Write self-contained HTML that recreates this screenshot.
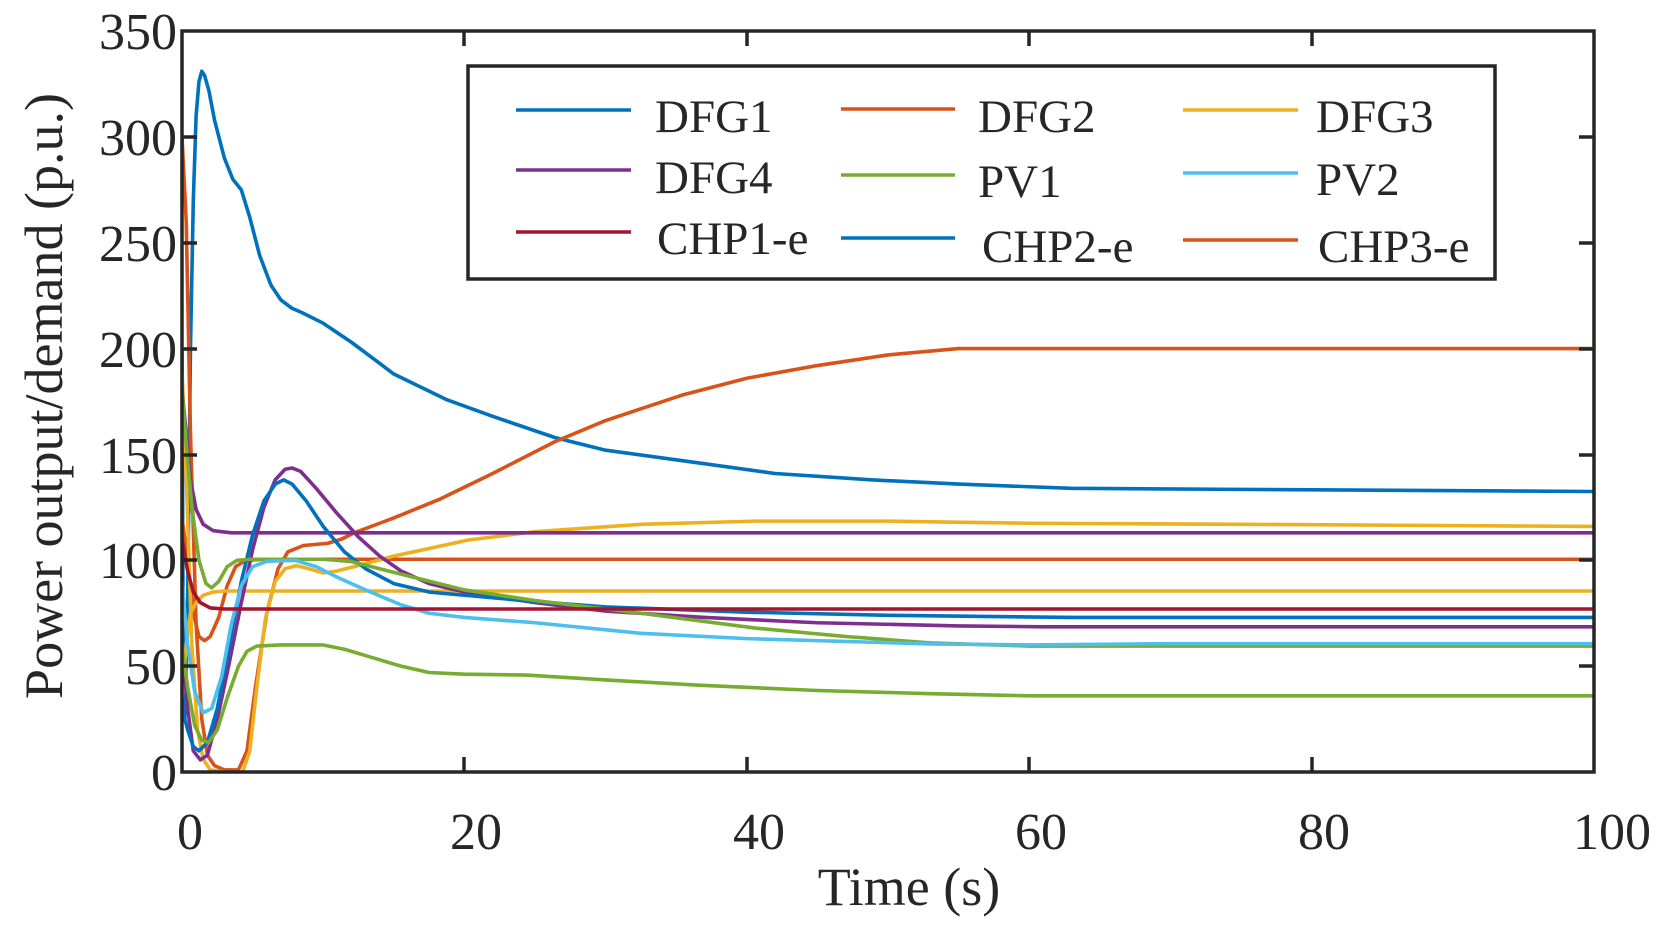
<!DOCTYPE html>
<html><head><meta charset="utf-8"><style>
html,body{margin:0;padding:0;background:#fff;}
svg{display:block;}
text{font-family:"Liberation Serif",serif;fill:#262626;}
</style></head><body>
<svg width="1667" height="928" viewBox="0 0 1667 928" xmlns="http://www.w3.org/2000/svg">
<defs><clipPath id="c"><rect x="182" y="31" width="1412" height="741"/></clipPath></defs>
<g clip-path="url(#c)">
<g transform="translate(182,772) scale(14.12,-2.117)" fill="none" stroke-width="3.6" stroke-linejoin="round">
<polyline vector-effect="non-scaling-stroke" stroke="#0072BD" points="0,200 0.1,30 0.2,25 0.4,80 0.6,200 0.8,270 1,310 1.2,326 1.4,331 1.6,329 1.9,322 2.3,308 3,290 3.6,280 4.2,275 4.8,262 5.5,244 6.3,230 7,223 7.8,219 8.5,217 10,212 12,203 15,188 18.7,176 22,168 26.4,158 30,152 36.6,146 42,141 48.8,138 55,136 63,134 75,133.5 100,132.5"/>
<polyline vector-effect="non-scaling-stroke" stroke="#D95319" points="0,300 0.3,260 0.6,160 1,70 1.4,25 1.8,8 2.3,3 3,1 4,1 4.6,10 5.2,40 6,75 6.8,96 7.5,104 8.6,107 10.3,108 11.3,110 12.2,113 15,120 18.3,129 22,141 26.4,156 30,166 35.4,178 40,186 45,192 50,197 55,200 100,200"/>
<polyline vector-effect="non-scaling-stroke" stroke="#D95319" points="0,120 0.4,100 0.8,75 1.2,64 1.6,62 2,64 2.6,73 3.2,88 3.8,97 4.5,100 6,100.5 100,100.5"/>
<polyline vector-effect="non-scaling-stroke" stroke="#EDB120" points="0,190 0.3,140 0.7,60 1.1,20 1.5,6 2,1 3,0 4.3,0 4.8,10 5.3,40 5.9,72 6.6,90 7.3,96 8.1,97.5 9,96 10,94 11,95 12.2,97 15,102 20.3,109.6 25,113.5 32.5,117 40.6,118.5 50,118.5 60,117.5 75,117 100,116"/>
<polyline vector-effect="non-scaling-stroke" stroke="#EDB120" points="0,35 0.3,60 0.6,75 1,80 1.5,83.5 2.2,85 3,85.5 100,85.5"/>
<polyline vector-effect="non-scaling-stroke" stroke="#7E2F8E" points="0,180 0.3,160 0.6,138 1,124 1.5,117 2.2,114 3.5,113 100,113"/>
<polyline vector-effect="non-scaling-stroke" stroke="#7E2F8E" points="0,60 0.4,30 0.8,10 1.3,5.7 1.8,8 2.5,25 3.3,50 4.2,80 5,105 5.8,125 6.6,138 7.3,143 7.8,143.6 8.4,142 9.5,134 11,122 12.5,111 14,102 15.5,95 17.5,89 20,85 25,80 30,76 37,73 45,70.5 55,69 61,68.6 100,68.6"/>
<polyline vector-effect="non-scaling-stroke" stroke="#0072BD" points="0,30 0.4,20 0.8,12 1.2,10 1.8,14 2.5,30 3.3,58 4.2,90 5,112 5.8,128 6.6,136 7.2,138 7.8,136 8.8,128 10,116 11.5,104 13,96 15,89 17.5,85 20,83.5 25,80.5 30,78 40,75.5 50,74 63,73 100,73"/>
<polyline vector-effect="non-scaling-stroke" stroke="#77AC30" points="0,180 0.3,155 0.7,125 1.2,100 1.7,89 2.1,87 2.6,90 3.2,97 3.9,100 5,100.5 10,100.5 12,99.4 14,96 17,91 20,86 25,81 32.5,75 40.6,68 47,64 53,61 60,59.5 100,59.5"/>
<polyline vector-effect="non-scaling-stroke" stroke="#77AC30" points="0,60 0.4,40 0.9,22 1.4,15 1.9,14 2.5,20 3.2,35 4,50 4.6,57 5.3,59.5 7,60 10,60 11.5,58 13.5,54 15.5,50 17.5,47 20,46.2 24.4,45.8 30,43.5 36.6,41 45,38.5 53,37 60,36 100,36"/>
<polyline vector-effect="non-scaling-stroke" stroke="#4DBEEE" points="0,90 0.4,60 0.9,38 1.5,28 2.1,30 2.8,45 3.5,70 4.2,88 5,97 6,99.5 8,100 9.5,97 11,92 13,86 15.5,79 17.5,75 20,73 25,70.5 32.5,65.5 40,63 53,60.5 60,60 70,60.6 100,60.6"/>
<polyline vector-effect="non-scaling-stroke" stroke="#A2142F" points="0,110 0.4,95 0.8,85 1.3,80 2,77.5 3,77 100,77"/>
</g>
</g>
<rect x="182" y="31" width="1412" height="741" fill="none" stroke="#262626" stroke-width="3.5"/>
<g stroke="#262626" stroke-width="3.5">
<line x1="464" y1="772" x2="464" y2="757"/><line x1="747" y1="772" x2="747" y2="757"/><line x1="1029" y1="772" x2="1029" y2="757"/><line x1="1312" y1="772" x2="1312" y2="757"/>
<line x1="464" y1="31" x2="464" y2="46"/><line x1="747" y1="31" x2="747" y2="46"/><line x1="1029" y1="31" x2="1029" y2="46"/><line x1="1312" y1="31" x2="1312" y2="46"/>
<line x1="182" y1="137" x2="197" y2="137"/><line x1="182" y1="243" x2="197" y2="243"/><line x1="182" y1="349" x2="197" y2="349"/><line x1="182" y1="455" x2="197" y2="455"/><line x1="182" y1="560" x2="197" y2="560"/><line x1="182" y1="666" x2="197" y2="666"/>
<line x1="1594" y1="137" x2="1579" y2="137"/><line x1="1594" y1="243" x2="1579" y2="243"/><line x1="1594" y1="349" x2="1579" y2="349"/><line x1="1594" y1="455" x2="1579" y2="455"/><line x1="1594" y1="560" x2="1579" y2="560"/><line x1="1594" y1="666" x2="1579" y2="666"/>
</g>
<g font-size="52" text-anchor="end">
<text x="177" y="49">350</text><text x="177" y="155">300</text><text x="177" y="261">250</text><text x="177" y="367">200</text><text x="177" y="473">150</text><text x="177" y="578">100</text><text x="177" y="684">50</text><text x="177" y="790">0</text>
</g>
<g font-size="52" text-anchor="middle">
<text x="190" y="849">0</text><text x="476" y="849">20</text><text x="759" y="849">40</text><text x="1041" y="849">60</text><text x="1324" y="849">80</text><text x="1612" y="849">100</text>
</g>
<text x="909" y="905" font-size="54" text-anchor="middle">Time (s)</text>
<text transform="translate(62,396) rotate(-90)" font-size="54" text-anchor="middle">Power output/demand (p.u.)</text>
<rect x="468" y="66" width="1027" height="213" fill="#fff" stroke="#262626" stroke-width="3.5"/>
<g stroke-width="3.6">
<line x1="516" y1="110" x2="631" y2="110" stroke="#0072BD"/>
<line x1="841" y1="109" x2="955" y2="109" stroke="#D95319"/>
<line x1="1183" y1="110" x2="1298" y2="110" stroke="#EDB120"/>
<line x1="516" y1="170" x2="631" y2="170" stroke="#7E2F8E"/>
<line x1="841" y1="175" x2="955" y2="175" stroke="#77AC30"/>
<line x1="1183" y1="173" x2="1298" y2="173" stroke="#4DBEEE"/>
<line x1="516" y1="232" x2="631" y2="232" stroke="#A2142F"/>
<line x1="841" y1="238" x2="955" y2="238" stroke="#0072BD"/>
<line x1="1183" y1="240" x2="1298" y2="240" stroke="#D95319"/>
</g>
<g font-size="47">
<text x="655" y="132">DFG1</text><text x="978" y="132">DFG2</text><text x="1316" y="132">DFG3</text>
<text x="655" y="193">DFG4</text><text x="978" y="197">PV1</text><text x="1316" y="195">PV2</text>
<text x="657" y="254">CHP1-e</text><text x="982" y="262">CHP2-e</text><text x="1318" y="262">CHP3-e</text>
</g>
</svg>
</body></html>
